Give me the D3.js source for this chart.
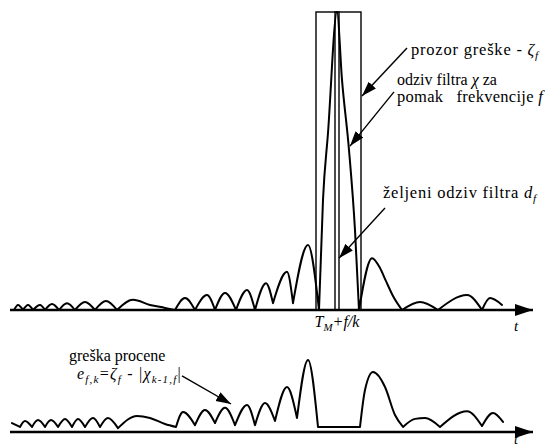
<!DOCTYPE html>
<html>
<head>
<meta charset="utf-8">
<script src="https://cdn.jsdelivr.net/npm/d3@7"></script>
<style>
  body { margin: 0; background: #fff; }
  svg { display: block; }
</style>
</head>
<body>
<svg id="chart" width="553" height="447"></svg>
<script>
// Filter response |χ| around the expected delay T_M + f/k
// (time in samples, amplitude normalised to the main-lobe peak)
const responseT = [0.8, 1.6, 2.6, 3.6, 4.6, 6.0, 7.0, 8.4, 9.8, 11.4, 13.0, 15.0, 17.0, 19.2, 21.4,
  24.6, 28.0, 31.0, 33.0, 35.0, 37.0, 39.4, 41.0, 43.0, 45.2, 47.4, 49.0, 51.2, 52.6, 55.4, 56.6,
  59.6, 61.8, 62.6, 63.6, 65.4, 66.4, 67.8, 69.0, 69.8, 72.4, 74.0, 75.2, 76.6, 78.4, 82.0, 85.6,
  91.4, 94.4, 96.0, 98.4];
const responseA = [0, 0.017, 0, 0.017, 0, 0.017, 0, 0.02, 0, 0.023, 0, 0.027, 0, 0.03, 0,
  0.034, 0.017, 0.007, 0, 0.04, 0, 0.05, 0, 0.057, 0, 0.067, 0, 0.09, 0.023, 0.128, 0.023,
  0.218, 0, 0.37, 0.594, 1.0, 0.772, 0.537, 0.268, 0, 0.174, 0.141, 0.097, 0.047, 0, 0.027, 0,
  0.05, 0, 0.04, 0.017];

// Estimation error e = ζ - |χ| (zero inside the error window)
const errorT = [0.4, 2.0, 3.0, 4.4, 5.6, 7.0, 8.2, 9.6, 11.0, 12.4, 13.6, 15.0, 16.6, 18.0, 19.6,
  21.6, 25.4, 28.0, 31.0, 33.2, 34.6, 37.0, 39.0, 41.0, 43.0, 45.0, 47.4, 49.0, 51.0, 53.0, 55.4,
  57.4, 59.6, 61.6, 70.0, 71.0, 72.6, 75.0, 77.0, 78.6, 81.0, 83.0, 86.0, 91.4, 94.4, 96.6, 98.6];
const errorA = [0.03, 0.017, 0.037, 0.017, 0.04, 0.017, 0.04, 0.017, 0.044, 0.017, 0.044, 0.017, 0.047, 0.017, 0.047,
  0.013, 0.054, 0.047, 0.027, 0.017, 0.067, 0.023, 0.074, 0.03, 0.081, 0.023, 0.091, 0.023, 0.097, 0.037, 0.151,
  0.047, 0.242, 0.017, 0.017, 0.141, 0.201, 0.151, 0.057, 0.017, 0.044, 0.047, 0.017, 0.07, 0.02, 0.064, 0.034];

const windowT = [61.2, 70.2];   // error window ζ_f
const windowA = 1.0;
const desiredT = [65.0, 65.8];  // desired response d_f
const desiredA = 1.0;
const axisEndT = 104.6;

// Annotation arrows: [tailT, tailA, tipT, tipA]
const arrowWindow   = [79.4, 0.879, 70.4, 0.718];
const arrowResponse = [76.8, 0.732, 68.0, 0.550];
const arrowDesired  = [75.0, 0.342, 65.8, 0.174];
const arrowError    = [34.4, 0.188, 44.2, 0.094];

const FONT = "'Liberation Serif', 'Times New Roman', Times, 'DejaVu Serif', serif";

const svg = d3.select("#chart");
const x = d3.scaleLinear().domain([0, 105]).range([10, 535]);
const yTop = d3.scaleLinear().domain([0, 1]).range([310, 12]);
const yErr = d3.scaleLinear().domain([0, 1]).range([432, 134]);

const defs = svg.append("defs");
defs.append("marker").attr("id", "head")
  .attr("markerUnits", "userSpaceOnUse")
  .attr("markerWidth", 16).attr("markerHeight", 12)
  .attr("refX", 15).attr("refY", 5).attr("orient", "auto")
  .append("path").attr("d", "M0,0 L15,5 L0,10 Z").attr("fill", "#000");
defs.append("marker").attr("id", "axisHead")
  .attr("markerUnits", "userSpaceOnUse")
  .attr("markerWidth", 20).attr("markerHeight", 14)
  .attr("refX", 18).attr("refY", 6).attr("orient", "auto")
  .append("path").attr("d", "M0,0 L18,6 L0,12 Z").attr("fill", "#000");

// split a curve into lobes at its local minima so each lobe keeps a cusp
function lobes(ts, as) {
  const pts = ts.map((t, i) => [t, as[i]]);
  const segs = [];
  let cur = [pts[0]];
  for (let i = 1; i < pts.length; i++) {
    cur.push(pts[i]);
    if (i < pts.length - 1 && pts[i][1] <= pts[i - 1][1] && pts[i][1] <= pts[i + 1][1]) {
      segs.push(cur);
      cur = [pts[i]];
    }
  }
  segs.push(cur);
  return segs;
}

function drawPanel(yScale, ts, as) {
  // time axis
  svg.append("line")
    .attr("x1", x(0)).attr("x2", x(axisEndT))
    .attr("y1", yScale(0)).attr("y2", yScale(0))
    .attr("stroke", "#000").attr("stroke-width", 2.4)
    .attr("marker-end", "url(#axisHead)");
  const line = d3.line().x(d => x(d[0])).y(d => yScale(d[1])).curve(d3.curveMonotoneX);
  svg.append("path")
    .attr("d", lobes(ts, as).map(s => line(s)).join(""))
    .attr("fill", "none").attr("stroke", "#000")
    .attr("stroke-width", 2).attr("stroke-linejoin", "round").attr("stroke-linecap", "round");
}

drawPanel(yTop, responseT, responseA);
drawPanel(yErr, errorT, errorA);

// error window
svg.append("rect")
  .attr("x", x(windowT[0])).attr("y", yTop(windowA))
  .attr("width", x(windowT[1]) - x(windowT[0])).attr("height", yTop(0) - yTop(windowA))
  .attr("fill", "none").attr("stroke", "#000").attr("stroke-width", 1.4);
// desired response
svg.append("rect")
  .attr("x", x(desiredT[0])).attr("y", yTop(desiredA))
  .attr("width", x(desiredT[1]) - x(desiredT[0])).attr("height", yTop(0) - yTop(desiredA))
  .attr("fill", "none").attr("stroke", "#000").attr("stroke-width", 1.4);

function arrow(a, yScale) {
  svg.append("line")
    .attr("x1", x(a[0])).attr("y1", yScale(a[1]))
    .attr("x2", x(a[2])).attr("y2", yScale(a[3]))
    .attr("stroke", "#000").attr("stroke-width", 1.4)
    .attr("marker-end", "url(#head)");
}
arrow(arrowWindow, yTop);
arrow(arrowResponse, yTop);
arrow(arrowDesired, yTop);
arrow(arrowError, yErr);

// text with italic symbols and subscripts: parts = [text, style]; style: "", "i", "sub"
// an optional target width spreads the letters to fill that span
function label(px, py, parts, size, anchor, width) {
  const t = svg.append("text").attr("x", px).attr("y", py)
    .attr("font-family", FONT).attr("fill", "#000")
    .attr("font-size", size).attr("text-anchor", anchor || "start")
    .style("white-space", "pre");
  let shift = 0;
  parts.forEach(([s, st]) => {
    const sp = t.append("tspan").text(s);
    if (st === "i" || st === "sub") sp.attr("font-style", "italic");
    if (st === "sub") {
      sp.attr("font-size", size * 0.68);
      if (shift === 0) { sp.attr("dy", size * 0.25); shift = 1; }
    } else if (shift === 1) {
      sp.attr("dy", -size * 0.25); shift = 0;
    }
  });
  if (width) {
    const n = parts.reduce((k, p) => k + p[0].length, 0);
    const w = t.node().getComputedTextLength();
    t.attr("letter-spacing", Math.max(0, (width - w) / n));
  }
  return t;
}

label(411, 55, [["prozor greške - ", ""], ["ζ", "i"], ["f", "sub"]], 16.5, "start", 128);
label(397, 85, [["odziv filtra ", ""], ["χ", "i"], [" za", ""]], 16, "start", 93);
label(397, 102, [["pomak   frekvencije ", ""], ["f", "i"]], 16.5, "start", 146);
label(383, 198, [["željeni odziv filtra ", ""], ["d", "i"], ["f", "sub"]], 16.5, "start", 154);
label(69, 361, [["greška procene", ""]], 16, "start", 94);
label(77, 379, [["e", "i"], ["f,k", "sub"], ["=", ""], ["ζ", "i"], ["f", "sub"], [" - |", ""], ["χ", "i"], ["k-1,f", "sub"], ["|", ""]], 16, "start", 105);
label(x(65.4), 327, [["T", "i"], ["M", "sub"], ["+f/k", "i"]], 16, "middle");
label(514, 331, [["t", "i"]], 15);
label(514, 444, [["t", "i"]], 14);
</script>
</body>
</html>
